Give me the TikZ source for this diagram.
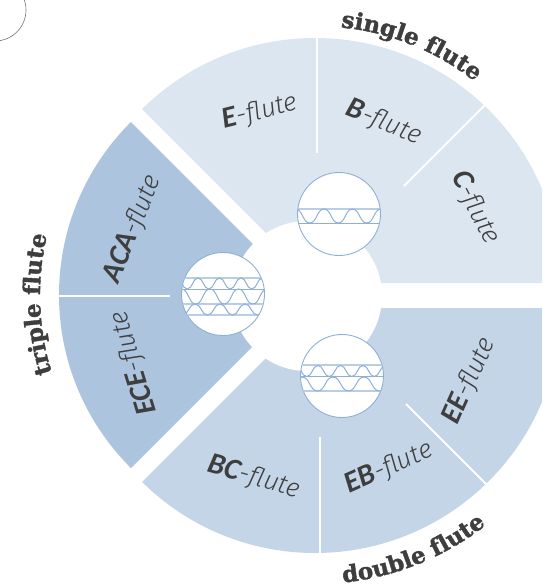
\documentclass[tikz,border=0pt]{standalone}
\usepackage{fontspec}
\usetikzlibrary{decorations.text}
\newfontfamily\fluLight{Fira Sans Light Italic}
\newfontfamily\fluBold{Carlito Bold Italic}
\newfontfamily\titlefont{DejaVu Serif Bold}[FakeBold=1.6]
\definecolor{ssingle}{HTML}{DCE6F1}
\definecolor{sdouble}{HTML}{C5D5E8}
\definecolor{striple}{HTML}{ADC4DF}
\definecolor{sheetline}{HTML}{8FB0D6}
\definecolor{sheetlight}{HTML}{B9CDE5}
\definecolor{inkdark}{HTML}{3E3E3E}
\newcommand{\fl}[1]{{\fluBold\fontsize{30}{32}\selectfont #1}{\fluLight\fontsize{26}{30}\selectfont -flute}}
\newcommand{\wv}[4]{\foreach \k in {-4,...,6}{\draw[wave] ({#3+\k*#4},{#1-#2}) .. controls ({#3+(\k+.25)*#4},{#1-#2}) and ({#3+(\k+.25)*#4},{#1+#2}) .. ({#3+(\k+.5)*#4},{#1+#2}) .. controls ({#3+(\k+.75)*#4},{#1+#2}) and ({#3+(\k+.75)*#4},{#1-#2}) .. ({#3+(\k+1)*#4},{#1-#2});}}
\tikzset{
  sep/.style={draw=white,line width=1.8pt},
  lens/.style={circle,draw=sheetline,line width=0.9pt,fill=white,minimum size=83pt,inner sep=0pt},
  wave/.style={draw=sheetline,line width=1pt,line cap=round,line join=round},
  dark/.style={draw=sheetline,line width=1.1pt},
  pale/.style={draw=sheetlight,line width=1.6pt},
  flabel/.style={text=inkdark,inner sep=0pt},
  ttl/.style={decorate,decoration={text along path,text color=inkdark,text align=center}},
}
\begin{document}
\begin{tikzpicture}[x=1pt,y=-1pt]
\useasboundingbox (0,0) rectangle (542,587);
\clip (0,0) rectangle (542,587);
% corner circle
\draw[draw=gray!90!black,line width=0.6pt] (-5,10) circle (31);
% sectors
\begin{scope}
  \clip (316,283) -- (66,33) -- (66,-100) -- (700,-100) -- (700,283) -- cycle;
  \fill[ssingle] (315,284) circle (246);
\end{scope}
\begin{scope}
  \clip (316,308) -- (66,558) -- (66,700) -- (700,700) -- (700,308) -- cycle;
  \fill[sdouble] (315,307) circle (246);
\end{scope}
\begin{scope}
  \clip (304,295) -- (-100,-109) -- (-100,699) -- cycle;
  \fill[striple] (303,295) circle (244);
\end{scope}
\fill[white] (307,296) circle (75);
% separators
\draw[sep] (317,37) -- (317,153);
\draw[sep] (486,104) -- (404,186);
\draw[sep] (58,296) -- (170,296);
\draw[sep] (320,554) -- (320,437);
\draw[sep] (488,486) -- (406,404);
% labels
\node[flabel,rotate=14] (e) at (260,112) {\fl{E}};
\node[flabel,rotate=-22] (b) at (384,123) {\fl{B}};
\node[flabel,rotate=-63] (c) at (475,208) {\fl{C}};
\node[flabel,rotate=68] (aca) at (133,229) {\fl{ACA}};
\node[flabel,rotate=107] (ece) at (134,363) {\fl{ECE}};
\node[flabel,rotate=-16] (bc) at (254,478) {\fl{BC}};
\node[flabel,rotate=24] (eb) at (389,468) {\fl{EB}};
\node[flabel,rotate=66] (ee) at (470,381) {\fl{EE}};
% lenses
\node[lens] (lenssingle) at (339,214) {};
\node[lens] (lenstriple) at (223,294) {};
\node[lens] (lensdouble) at (342,376) {};
\begin{scope}
  \clip (339,214) circle (41.5);
  \draw[pale] (290,209) -- (390,209);
  \draw[dark,line width=0.9pt] (290,223) -- (390,223);
  \wv{216}{7}{324}{28.5}
\end{scope}
\begin{scope}
  \clip (223,294) circle (41.5);
  \draw[pale] (170,278) -- (280,278);
  \draw[dark] (170,289.5) -- (280,289.5);
  \draw[pale] (170,304) -- (280,304);
  \draw[pale] (170,315) -- (280,315);
  \wv{283.5}{5.5}{198}{21.5}
  \wv{296.5}{7.5}{210}{28.5}
  \wv{309.5}{5.5}{195}{25}
\end{scope}
\begin{scope}
  \clip (342,376) circle (41.5);
  \draw[pale] (290,365) -- (395,365);
  \draw[dark] (290,376.5) -- (395,376.5);
  \draw[pale] (290,391) -- (395,391);
  \wv{371}{5.5}{318}{22.5}
  \wv{384}{7}{333}{31}
\end{scope}
% curved titles
\begin{scope}[y=1pt,shift={(315pt,-284pt)}]
  \path[ttl,decoration={text={|\titlefont\fontsize{23}{25}\selectfont|single flute}}]
    (87:258) arc[start angle=87,end angle=49,radius=258];
\end{scope}
\begin{scope}[y=1pt,shift={(315pt,-307pt)}]
  \path[ttl,decoration={text={|\titlefont\fontsize{23}{25}\selectfont|double flute}}]
    (-86:277) arc[start angle=-86,end angle=-50,radius=277];
\end{scope}
\begin{scope}[y=1pt,shift={(303pt,-295pt)}]
  \path[ttl,decoration={text={|\titlefont\fontsize{23}{25}\selectfont|triple flute}}]
    (198:263) arc[start angle=198,end angle=166,radius=263];
\end{scope}
\end{tikzpicture}
\end{document}
